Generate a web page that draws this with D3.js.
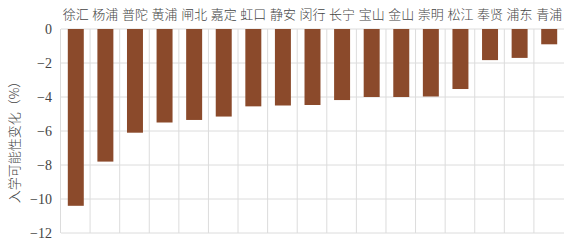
<!DOCTYPE html>
<html>
<head>
<meta charset="utf-8">
<script src="https://cdn.jsdelivr.net/npm/d3@7"></script>
<style>
  body { margin: 0; background: #fff; }
  svg { display: block; }
</style>
</head>
<body>
<div id="chart"></div>
<script>
var districts = ["徐汇", "杨浦", "普陀", "黄浦", "闸北", "嘉定", "虹口", "静安", "闵行", "长宁", "宝山", "金山", "崇明", "松江", "奉贤", "浦东", "青浦"];
var changes = [-10.4, -7.8, -6.1, -5.5, -5.35, -5.15, -4.55, -4.5, -4.47, -4.18, -4.0, -4.0, -3.97, -3.53, -1.83, -1.7, -0.9];
var yTicks = [0, -2, -4, -6, -8, -10, -12];

var W = 566, H = 244;
var margin = {top: 29, right: 2, bottom: 11, left: 61};
var width = W - margin.left - margin.right;
var height = H - margin.top - margin.bottom;

var svg = d3.select("#chart").append("svg")
    .attr("width", W)
    .attr("height", H)
  .append("g")
    .attr("transform", "translate(" + margin.left + "," + margin.top + ")");

var x = d3.scaleBand()
    .domain(districts)
    .range([0, width])
    .paddingInner(0.46)
    .paddingOuter(0.23);

var y = d3.scaleLinear()
    .domain([0, -12])
    .range([0, height]);

// grid
svg.selectAll(".hgrid")
  .data(yTicks).enter()
  .append("line")
    .attr("class", "hgrid")
    .attr("x1", 0).attr("x2", width)
    .attr("y1", d => y(d)).attr("y2", d => y(d))
    .attr("stroke", "#dcdcdc")
    .attr("stroke-width", 1);

// vertical lines between the districts
svg.selectAll(".vgrid")
  .data(districts).enter()
  .append("line")
    .attr("class", "vgrid")
    .attr("x1", d => x(d) - x.step() * 0.23 - 0.5)
    .attr("x2", d => x(d) - x.step() * 0.23 - 0.5)
    .attr("y1", 0).attr("y2", height)
    .attr("stroke", "#dcdcdc")
    .attr("stroke-width", 1);

// bars
svg.selectAll(".bar")
  .data(districts).enter()
  .append("rect")
    .attr("class", "bar")
    .attr("x", d => x(d))
    .attr("width", x.bandwidth())
    .attr("y", y(0))
    .attr("height", (d, i) => y(changes[i]) - y(0))
    .attr("fill", "#8b4a2b");

// category labels on top
svg.selectAll(".cat")
  .data(districts).enter()
  .append("text")
    .attr("class", "cat")
    .attr("x", d => x(d) + x.bandwidth() / 2)
    .attr("y", -10)
    .attr("text-anchor", "middle")
    .style("font-family", "'Noto Sans CJK SC', sans-serif")
    .style("font-size", "13px")
    .style("font-weight", "300")
    .style("fill", "#444")
    .text(d => d);

// y axis
var yAxis = svg.append("g")
    .call(d3.axisLeft(y).tickValues(yTicks).tickSize(0).tickPadding(9)
      .tickFormat(d => d === 0 ? "0" : "\u2212" + Math.abs(d)));
yAxis.select(".domain").remove();
yAxis.selectAll("text")
    .style("font-family", "'Liberation Serif', serif")
    .style("font-size", "14px")
    .style("fill", "#444");

svg.append("text")
    .attr("transform", "translate(" + (-47) + "," + (height / 2 + 8) + ") rotate(-90)")
    .attr("text-anchor", "middle")
    .attr("dy", "0.35em")
    .style("font-family", "'Noto Sans CJK SC', sans-serif")
    .style("font-size", "13px")
    .style("font-weight", "300")
    .style("fill", "#444")
    .text("入学可能性变化（%）");
</script>
</body>
</html>
